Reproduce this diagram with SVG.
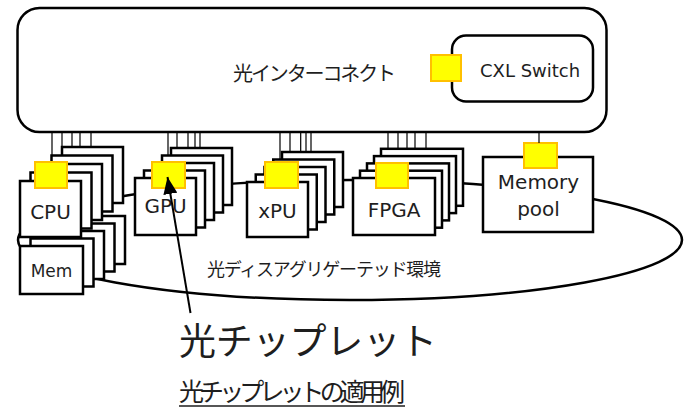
<svg xmlns="http://www.w3.org/2000/svg" width="688" height="420" viewBox="0 0 688 420">
<defs>
<style>
.frame{fill:#fff;stroke:#000;stroke-width:2.5}
.card{fill:#fff;stroke:#000;stroke-width:2.5}
.chip{fill:#FFFF00;stroke:#FFC000;stroke-width:2}
.wire{stroke:#000;stroke-width:1.2;fill:none}
.env{fill:none;stroke:#000;stroke-width:2.5}
.jp{font-family:"Noto Sans CJK JP","Noto Sans",sans-serif;fill:#1e1e1e}
.lat{font-family:"DejaVu Sans","Noto Sans",sans-serif;fill:#1e1e1e}
.mid{text-anchor:middle}
</style>
<marker id="arrowhead" markerUnits="userSpaceOnUse" markerWidth="17" markerHeight="14" refX="17" refY="7" orient="auto">
<path d="M0,0 L17,7 L0,14 z" fill="#000"/>
</marker>
</defs>
<rect width="688" height="420" fill="#fff"/>

<g id="optical-interconnect">
<rect class="frame" x="17.5" y="8" width="589" height="124" rx="22"/>
<text class="jp" x="233" y="81" font-size="20" textLength="163">光インターコネクト</text>
</g>

<g id="cxl-switch">
<rect class="frame" x="452" y="35.5" width="141" height="66" rx="14" stroke-width="2"/>
<rect class="chip" x="431" y="55" width="30" height="26"/>
<text class="lat" x="480" y="77" font-size="18">CXL Switch</text>
</g>

<g id="disaggregated-env">
<ellipse class="env" cx="350" cy="240" rx="332" ry="60"/>
<text class="jp" x="207" y="276" font-size="18" textLength="234">光ディスアグリゲーテッド環境</text>
</g>

<g id="mem">
<rect class="card" x="62" y="216" width="63" height="48"/>
<rect class="card" x="51.5" y="223.5" width="63" height="48"/>
<rect class="card" x="41" y="231" width="63" height="48"/>
<rect class="card" x="30.5" y="238.5" width="63" height="48"/>
<rect class="card" x="20" y="246" width="63" height="48"/>
<text class="lat mid" x="51.5" y="277" font-size="17">Mem</text>
</g>

<g id="cpu">
<rect class="card" x="62" y="147" width="61" height="56"/>
<rect class="card" x="51.5" y="155.5" width="61" height="56"/>
<rect class="card" x="41" y="164" width="61" height="56"/>
<rect class="card" x="30.5" y="172.5" width="61" height="56"/>
<rect class="card" x="20" y="181" width="61" height="56"/>
<rect class="chip" x="35" y="162" width="32" height="26"/>
<text class="lat mid" x="50.5" y="219" font-size="20">CPU</text>
</g>

<g id="gpu">
<rect class="card" x="171" y="148" width="61" height="57"/>
<rect class="card" x="162" y="155.5" width="61" height="57"/>
<rect class="card" x="153" y="163" width="61" height="57"/>
<rect class="card" x="144" y="170.5" width="61" height="57"/>
<rect class="card" x="135" y="178" width="61" height="57"/>
<rect class="chip" x="152" y="162" width="33" height="26"/>
<text class="lat mid" x="165.5" y="213" font-size="20">GPU</text>
</g>

<g id="xpu">
<rect class="card" x="282" y="152" width="61" height="55"/>
<rect class="card" x="273.25" y="159.5" width="61" height="55"/>
<rect class="card" x="264.5" y="167" width="61" height="55"/>
<rect class="card" x="255.75" y="174.5" width="61" height="55"/>
<rect class="card" x="247" y="182" width="61" height="55"/>
<rect class="chip" x="265" y="162" width="33" height="26"/>
<text class="lat mid" x="277.5" y="218" font-size="20">xPU</text>
</g>

<g id="fpga">
<rect class="card" x="381" y="148.8" width="82" height="57"/>
<rect class="card" x="374" y="156.1" width="82" height="57"/>
<rect class="card" x="367" y="163.4" width="82" height="57"/>
<rect class="card" x="360" y="170.7" width="82" height="57"/>
<rect class="card" x="353" y="178" width="82" height="57"/>
<rect class="chip" x="376" y="163" width="32" height="25"/>
<text class="lat mid" x="394" y="217" font-size="20">FPGA</text>
</g>

<g id="memory-pool">
<rect class="card" x="483" y="157" width="110" height="75"/>
<rect class="chip" x="524" y="143" width="33" height="25"/>
<text class="lat mid" x="538.5" y="189" font-size="20">Memory</text>
<text class="lat mid" x="538.5" y="216" font-size="20">pool</text>
</g>

<g id="connectors">
<path class="wire" d="M52,132V155.5 M62,132V147 M72,132V147 M80,132V147 M91,132V147"/>
<path class="wire" d="M168,132V155.5 M177,132V148 M188,132V148 M195,132V148 M200,132V148"/>
<path class="wire" d="M280,132V159.5 M290,132V152 M300.7,132V152 M306,132V152 M311,132V152"/>
<path class="wire" d="M388,132V148.8 M398,132V148.8 M407,132V148.8 M415,132V148.8 M426,132V148.8"/>
<path class="wire" d="M539,132V143"/>
<path d="M190.5,313 L167.5,177" stroke="#000" stroke-width="2" fill="none" marker-end="url(#arrowhead)"/>
</g>

<g id="labels">
<text class="jp" x="179" y="355" font-size="37" textLength="258">光チップレット</text>
<text class="jp" x="179" y="401" font-size="25" textLength="226">光チップレットの適用例</text>
<line x1="179" y1="406" x2="405" y2="406" stroke="#1e1e1e" stroke-width="1.5"/>
</g>
</svg>
